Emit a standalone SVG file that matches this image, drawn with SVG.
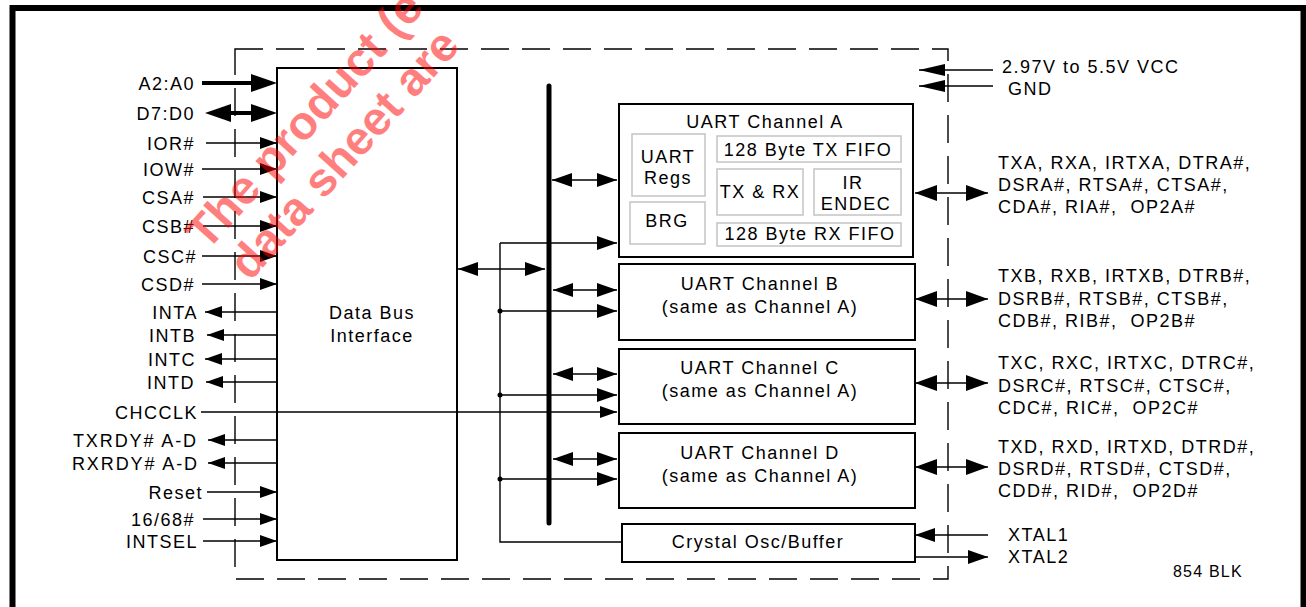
<svg xmlns="http://www.w3.org/2000/svg" width="1306" height="607" viewBox="0 0 1306 607">
<style>
.t{font-family:"Liberation Sans",Arial,Helvetica,sans-serif;font-size:18px;letter-spacing:1.5px;fill:#000}
.e{text-anchor:end}
.c{text-anchor:middle}
.p{white-space:pre}
.box{fill:#fff;stroke:#000;stroke-width:2}
.ibox{fill:#fff;stroke:#c4c4c4;stroke-width:1.5}
.w{fill:none;stroke:#000;stroke-width:1.4}
.thick{fill:none;stroke:#000;stroke-width:4}
.sm{marker-end:url(#m-sm)}
.md2{marker-start:url(#m-md);marker-end:url(#m-md)}
.md{marker-end:url(#m-md)}
.lg2{marker-start:url(#m-lg);marker-end:url(#m-lg)}
.lg{marker-end:url(#m-lg)}
</style>
<defs>
<marker id="m-sm" markerUnits="userSpaceOnUse" markerWidth="17" markerHeight="12" refX="17" refY="6" orient="auto-start-reverse" overflow="visible"><path d="M0,0 L17,6 L0,12 z" fill="#000"/></marker>
<marker id="m-md" markerUnits="userSpaceOnUse" markerWidth="20" markerHeight="14" refX="20" refY="7" orient="auto-start-reverse" overflow="visible"><path d="M0,0 L20,7 L0,14 z" fill="#000"/></marker>
<marker id="m-lg" markerUnits="userSpaceOnUse" markerWidth="22" markerHeight="16" refX="22" refY="8" orient="auto-start-reverse" overflow="visible"><path d="M0,0 L22,8 L0,16 z" fill="#000"/></marker>
<marker id="m-vcc" markerUnits="userSpaceOnUse" markerWidth="26" markerHeight="12" refX="26" refY="6" orient="auto-start-reverse" overflow="visible"><path d="M0,0 L26,6 L0,12 z" fill="#000"/></marker>
<marker id="m-big" markerUnits="userSpaceOnUse" markerWidth="26" markerHeight="18" refX="20" refY="9" orient="auto-start-reverse" overflow="visible"><path d="M0,0 L26,9 L0,18 z" fill="#000"/></marker>
</defs>
<rect width="1306" height="607" fill="#fff"/>
<rect id="frame" x="12.5" y="8" width="1291" height="700" fill="none" stroke="#000" stroke-width="6"/>
<rect id="chip-outline" x="235" y="49" width="713" height="530" fill="none" stroke="#000" stroke-width="1.4" stroke-dasharray="28 13"/>

<g id="node-dbi"><rect class="box" x="277" y="68" width="180" height="492" stroke-width="1.6"/>
<text class="t c" x="372" y="319">Data Bus</text><text class="t c" x="372" y="342">Interface</text></g>

<g id="node-chA"><rect class="box" x="619" y="104" width="294" height="153"/>
<text class="t c" x="765" y="128">UART Channel A</text>
<rect class="ibox" x="632" y="134" width="73" height="62"/>
<text class="t c" x="668" y="163">UART</text><text class="t c" x="668" y="184">Regs</text>
<rect class="ibox" x="630" y="202" width="75" height="42"/>
<text class="t c" x="667" y="227">BRG</text>
<rect class="ibox" x="717" y="136" width="184" height="26"/>
<text class="t c" x="808" y="156">128 Byte TX FIFO</text>
<rect class="ibox" x="717" y="169" width="86" height="46"/>
<text class="t c" x="760" y="198">TX &amp; RX</text>
<rect class="ibox" x="814" y="169" width="87" height="46"/>
<text class="t c" x="853" y="189">IR</text><text class="t c" x="856" y="210">ENDEC</text>
<rect class="ibox" x="717" y="223" width="184" height="23"/>
<text class="t c" x="810" y="240">128 Byte RX FIFO</text></g>

<g id="node-chB"><rect class="box" x="619" y="264" width="296" height="76"/>
<text class="t c" x="760" y="290">UART Channel B</text><text class="t c" x="760" y="313">(same as Channel A)</text></g>
<g id="node-chC"><rect class="box" x="619" y="349" width="296" height="75"/>
<text class="t c" x="760" y="374">UART Channel C</text><text class="t c" x="760" y="397">(same as Channel A)</text></g>
<g id="node-chD"><rect class="box" x="619" y="433" width="296" height="75"/>
<text class="t c" x="760" y="459">UART Channel D</text><text class="t c" x="760" y="482">(same as Channel A)</text></g>
<g id="node-osc"><rect class="box" x="622" y="524" width="293" height="38"/>
<text class="t c" x="758" y="548">Crystal Osc/Buffer</text></g>

<g id="connectors">
<line x1="549" y1="86" x2="549" y2="523" stroke="#000" stroke-width="5" stroke-linecap="round"/>
<line class="thick" x1="202" y1="83" x2="271" y2="83" marker-end="url(#m-big)"/>
<line class="thick" x1="211" y1="113" x2="271" y2="113" marker-start="url(#m-big)" marker-end="url(#m-big)"/>
<line class="w sm" x1="206" y1="143" x2="277" y2="143"/>
<line class="w sm" x1="202" y1="169" x2="277" y2="169"/>
<line class="w sm" x1="203" y1="197" x2="277" y2="197"/>
<line class="w sm" x1="203" y1="226" x2="277" y2="226"/>
<line class="w sm" x1="202" y1="256" x2="277" y2="256"/>
<line class="w sm" x1="202" y1="284" x2="277" y2="284"/>
<line class="w sm" x1="277" y1="312" x2="205" y2="312"/>
<line class="w sm" x1="277" y1="335" x2="207" y2="335"/>
<line class="w sm" x1="277" y1="359" x2="205" y2="359"/>
<line class="w sm" x1="277" y1="382" x2="206" y2="382"/>
<line class="w sm" x1="201" y1="412" x2="617" y2="412"/>
<line class="w sm" x1="277" y1="440" x2="208" y2="440"/>
<line class="w sm" x1="277" y1="463" x2="208" y2="463"/>
<line class="w sm" x1="207" y1="492" x2="277" y2="492"/>
<line class="w sm" x1="203" y1="519" x2="277" y2="519"/>
<line class="w sm" x1="203" y1="541" x2="277" y2="541"/>
<line class="w md2" x1="458" y1="269" x2="545" y2="269"/>
<line class="w md2" x1="552" y1="180" x2="617" y2="180"/>
<line class="w md2" x1="553" y1="290" x2="617" y2="290"/>
<line class="w md2" x1="553" y1="374" x2="617" y2="374"/>
<line class="w md2" x1="553" y1="459" x2="617" y2="459"/>
<path class="w" d="M500,243 V542 H622"/>
<line class="w md" x1="500" y1="243" x2="617" y2="243"/>
<line class="w md" x1="500" y1="311" x2="617" y2="311"/>
<line class="w md" x1="500" y1="395" x2="617" y2="395"/>
<line class="w md" x1="500" y1="479" x2="617" y2="479"/>
<circle cx="500" cy="311" r="2.5"/><circle cx="500" cy="395" r="2.5"/><circle cx="500" cy="479" r="2.5"/>
<line class="w" x1="993" y1="70" x2="919" y2="70" marker-end="url(#m-vcc)"/>
<line class="w" x1="993" y1="86" x2="919" y2="86" marker-end="url(#m-vcc)"/>
<line class="w lg2" x1="915" y1="193" x2="988" y2="193"/>
<line class="w lg2" x1="915" y1="299" x2="988" y2="299"/>
<line class="w lg2" x1="915" y1="383" x2="988" y2="383"/>
<line class="w lg2" x1="915" y1="467" x2="988" y2="467"/>
<line class="w md" x1="988" y1="535" x2="915" y2="535"/>
<line class="w md" x1="915" y1="557" x2="988" y2="557"/>
</g>

<g id="labels-left">
<text class="t e" x="195" y="90">A2:A0</text>
<text class="t e" x="195" y="120">D7:D0</text>
<text class="t e" x="195" y="150">IOR#</text>
<text class="t e" x="195" y="176">IOW#</text>
<text class="t e" x="195" y="204">CSA#</text>
<text class="t e" x="195" y="233">CSB#</text>
<text class="t e" x="197" y="263">CSC#</text>
<text class="t e" x="195" y="291">CSD#</text>
<text class="t e" x="198" y="319">INTA</text>
<text class="t e" x="196" y="342">INTB</text>
<text class="t e" x="196" y="366">INTC</text>
<text class="t e" x="195" y="389">INTD</text>
<text class="t e" x="198" y="419">CHCCLK</text>
<text class="t e" x="198" y="447" style="letter-spacing:1.9px">TXRDY# A-D</text>
<text class="t e" x="199" y="470" style="letter-spacing:1.9px">RXRDY# A-D</text>
<text class="t e" x="203" y="499">Reset</text>
<text class="t e" x="195" y="526">16/68#</text>
<text class="t e" x="198" y="548">INTSEL</text>
</g>
<g id="labels-right">
<text class="t" x="1002" y="73">2.97V to 5.5V VCC</text>
<text class="t" x="1008" y="95">GND</text>
<text class="t" x="998" y="169">TXA, RXA, IRTXA, DTRA#,</text>
<text class="t" x="998" y="191">DSRA#, RTSA#, CTSA#,</text>
<text class="t p" x="998" y="213">CDA#, RIA#,  OP2A#</text>
<text class="t" x="998" y="282">TXB, RXB, IRTXB, DTRB#,</text>
<text class="t" x="998" y="305">DSRB#, RTSB#, CTSB#,</text>
<text class="t p" x="998" y="327">CDB#, RIB#,  OP2B#</text>
<text class="t" x="998" y="369">TXC, RXC, IRTXC, DTRC#,</text>
<text class="t" x="998" y="392">DSRC#, RTSC#, CTSC#,</text>
<text class="t p" x="998" y="414">CDC#, RIC#,  OP2C#</text>
<text class="t" x="998" y="453">TXD, RXD, IRTXD, DTRD#,</text>
<text class="t" x="998" y="475">DSRD#, RTSD#, CTSD#,</text>
<text class="t p" x="998" y="497">CDD#, RID#,  OP2D#</text>
<text class="t" x="1008" y="541">XTAL1</text>
<text class="t" x="1008" y="563">XTAL2</text>
<text class="t" x="1173" y="577" style="font-size:16px;letter-spacing:1.2px">854 BLK</text>
</g>
<g id="watermark" fill="#ff0000" fill-opacity="0.5" font-family="'Liberation Sans',Arial,sans-serif" font-weight="bold" font-size="47">
<text transform="translate(207,252) rotate(-48)">The product (e</text>
<text transform="translate(250,282) rotate(-48)">data sheet are</text>
</g>
</svg>
